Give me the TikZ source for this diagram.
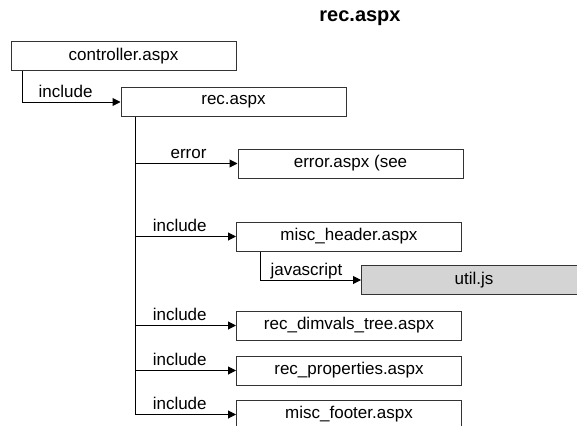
\documentclass[tikz,border=0pt]{standalone}
\usepackage{fontspec}
\setmainfont{Liberation Sans}
\usetikzlibrary{arrows.meta}
\tikzset{style={>={Triangle[length=8pt,width=8pt]}}}
\tikzset{page/.style={rectangle, fill=white, draw=black!80, line width=1pt, minimum width=225pt, minimum height=29pt, inner sep=0pt, font=\fontsize{17}{20}\selectfont}}
\tikzset{script/.style={page, fill=black!17}}
\tikzset{linklabel/.style={anchor=base, yshift=5pt, inner sep=0pt, font=\fontsize{17}{20}\selectfont}}
\tikzset{heading/.style={font=\fontsize{20}{24}\selectfont\bfseries}}

\begin{document}
\begin{tikzpicture}[x=1pt, y=-1pt, line width=1pt]
    \useasboundingbox (0,0) rectangle (577,425);
    \clip (0,0) rectangle (577,425);

    \node[heading] (title)  at (360, 18)    {rec.aspx};
    \node[page]    (ctrl)   at (123.5, 56.5) {controller.aspx};
    \node[page]    (rec)    at (233.5, 102)  {rec.aspx};
    \node[page]    (err)    at (350.5, 163.5) {error.aspx (see};
    \node[page]    (hdr)    at (349, 236.5)  {misc\_header.aspx};
    \node[script]  (util)   at (474, 280)    {util.js};
    \node[page]    (dims)   at (349, 325.5)  {rec\_dimvals\_tree.aspx};
    \node[page]    (props)  at (349, 370.5)  {rec\_properties.aspx};
    \node[page]    (footer) at (349, 414.5)  {misc\_footer.aspx};

    \draw[->] ([xshift=12pt]ctrl.south west) |- (rec.west)   node[linklabel, pos=0.72] {include};
    \draw[->] ([xshift=15pt]rec.south west)  |- (err.west)   node[linklabel, pos=0.76] {error};
    \draw[->] ([xshift=15pt]rec.south west)  |- (hdr.west)   node[linklabel, pos=0.72] {include};
    \draw[->] ([xshift=24pt]hdr.south west)  |- (util.west)  node[linklabel, pos=0.73] {javascript};
    \draw[->] ([xshift=15pt]rec.south west)  |- (dims.west)  node[linklabel, pos=0.72] {include};
    \draw[->] ([xshift=15pt]rec.south west)  |- (props.west) node[linklabel, pos=0.72] {include};
    \draw[->] ([xshift=15pt]rec.south west)  |- (footer.west) node[linklabel, pos=0.72] {include};
  \end{tikzpicture}
\end{document}
